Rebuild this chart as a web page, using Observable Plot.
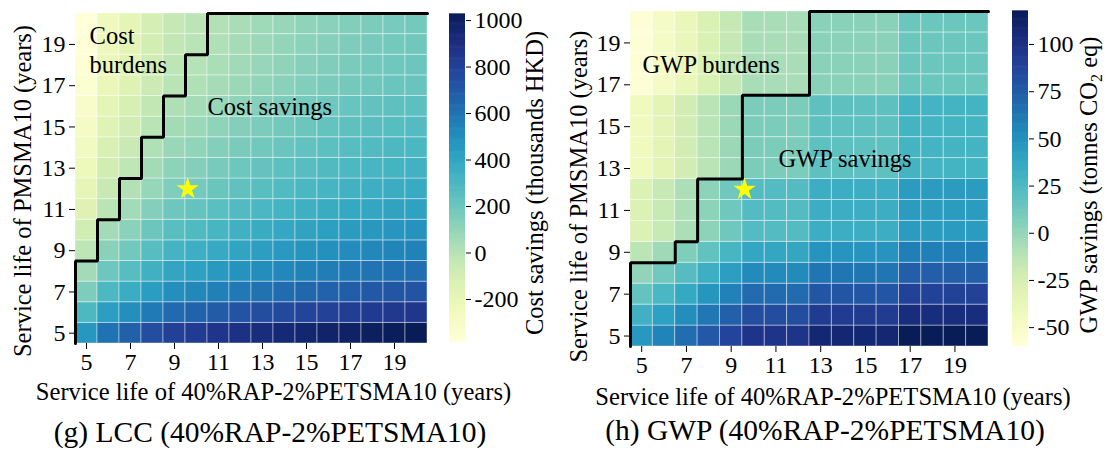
<!DOCTYPE html>
<html>
<head>
<meta charset="utf-8">
<script src="https://cdn.jsdelivr.net/npm/d3@7"></script>
<script src="https://cdn.jsdelivr.net/npm/@observablehq/plot@0.6"></script>
<style>
  html, body { margin: 0; padding: 0; background: #fff; }
  #root { position: relative; width: 1110px; height: 452px; overflow: hidden; background: #fff;
          font-family: "Liberation Serif", "Times New Roman", serif; }
  #root > svg, #root > figure { position: absolute; margin: 0; }
  #root svg text { font-family: "Liberation Serif", "Times New Roman", serif; }
  #overlay { left: 0; top: 0; pointer-events: none; }
</style>
</head>
<body>
<div id="root"></div>
<script>
// ---------------- data ----------------
const rapLife = [5, 6, 7, 8, 9, 10, 11, 12, 13, 14, 15, 16, 17, 18, 19, 20];     // x: 40%RAP-2%PETSMA10
const pmsmaLife = [5, 6, 7, 8, 9, 10, 11, 12, 13, 14, 15, 16, 17, 18, 19, 20];   // y: PMSMA10
const axisTicks = [5, 7, 9, 11, 13, 15, 17, 19];

// LCC cost savings (thousands HKD); rows = PMSMA10 life 5..20, columns = RAP life 5..20
const lccSavings = [
  [462, 602, 666, 744, 804, 830, 860, 887, 912, 934, 954, 972, 989, 1004, 1017, 1026],
  [292, 432, 496, 574, 634, 660, 690, 717, 742, 764, 784, 802, 819, 834, 847, 856],
  [155, 295, 359, 437, 497, 523, 553, 580, 605, 627, 647, 665, 682, 697, 710, 719],
  [55, 195, 259, 337, 397, 423, 453, 480, 505, 527, 547, 565, 582, 597, 610, 619],
  [-20, 120, 184, 262, 322, 348, 378, 405, 430, 452, 472, 490, 507, 522, 535, 544],
  [-85, 55, 119, 197, 257, 283, 313, 340, 365, 387, 407, 425, 442, 457, 470, 479],
  [-147, -7, 57, 135, 195, 221, 251, 278, 303, 325, 345, 363, 380, 395, 408, 417],
  [-193, -53, 11, 89, 149, 175, 205, 232, 257, 279, 299, 317, 334, 349, 362, 371],
  [-230, -90, -26, 52, 112, 138, 168, 195, 220, 242, 262, 280, 297, 312, 325, 334],
  [-263, -123, -59, 19, 79, 105, 135, 162, 187, 209, 229, 247, 264, 279, 292, 301],
  [-290, -150, -86, -8, 52, 78, 108, 135, 160, 182, 202, 220, 237, 252, 265, 274],
  [-317, -177, -113, -35, 25, 51, 81, 108, 133, 155, 175, 193, 210, 225, 238, 247],
  [-349, -209, -145, -67, -7, 19, 49, 76, 101, 123, 143, 161, 178, 193, 206, 215],
  [-363, -223, -159, -81, -21, 5, 35, 62, 87, 109, 129, 147, 164, 179, 192, 201],
  [-376, -236, -172, -94, -34, -8, 22, 49, 74, 96, 116, 134, 151, 166, 179, 188],
  [-385, -245, -181, -103, -43, -17, 13, 40, 65, 87, 107, 125, 142, 157, 170, 179]
];

// GWP savings (tonnes CO2 eq); rows = PMSMA10 life 5..20, columns = RAP life 5..20
const gwpSavings = [
  [46, 56.3, 66.6, 76.9, 87.2, 97.5, 97.5, 97.5, 107.8, 107.8, 107.8, 107.8, 118.1, 118.1, 118.1, 118.1],
  [31.1, 41.4, 51.7, 62, 72.3, 82.6, 82.6, 82.6, 92.9, 92.9, 92.9, 92.9, 103.2, 103.2, 103.2, 103.2],
  [16.2, 26.5, 36.8, 47.1, 57.4, 67.7, 67.7, 67.7, 78, 78, 78, 78, 88.3, 88.3, 88.3, 88.3],
  [1.3, 11.6, 21.9, 32.2, 42.5, 52.8, 52.8, 52.8, 63.1, 63.1, 63.1, 63.1, 73.4, 73.4, 73.4, 73.4],
  [-13.6, -3.3, 7, 17.3, 27.6, 37.9, 37.9, 37.9, 48.2, 48.2, 48.2, 48.2, 58.5, 58.5, 58.5, 58.5],
  [-28.5, -18.2, -7.9, 2.4, 12.7, 23, 23, 23, 33.3, 33.3, 33.3, 33.3, 43.6, 43.6, 43.6, 43.6],
  [-28.5, -18.2, -7.9, 2.4, 12.7, 23, 23, 23, 33.3, 33.3, 33.3, 33.3, 43.6, 43.6, 43.6, 43.6],
  [-28.5, -18.2, -7.9, 2.4, 12.7, 23, 23, 23, 33.3, 33.3, 33.3, 33.3, 43.6, 43.6, 43.6, 43.6],
  [-43.4, -33.1, -22.8, -12.5, -2.2, 8.1, 8.1, 8.1, 18.4, 18.4, 18.4, 18.4, 28.7, 28.7, 28.7, 28.7],
  [-43.4, -33.1, -22.8, -12.5, -2.2, 8.1, 8.1, 8.1, 18.4, 18.4, 18.4, 18.4, 28.7, 28.7, 28.7, 28.7],
  [-43.4, -33.1, -22.8, -12.5, -2.2, 8.1, 8.1, 8.1, 18.4, 18.4, 18.4, 18.4, 28.7, 28.7, 28.7, 28.7],
  [-43.4, -33.1, -22.8, -12.5, -2.2, 8.1, 8.1, 8.1, 18.4, 18.4, 18.4, 18.4, 28.7, 28.7, 28.7, 28.7],
  [-58.3, -48, -37.7, -27.4, -17.1, -6.8, -6.8, -6.8, 3.5, 3.5, 3.5, 3.5, 13.8, 13.8, 13.8, 13.8],
  [-58.3, -48, -37.7, -27.4, -17.1, -6.8, -6.8, -6.8, 3.5, 3.5, 3.5, 3.5, 13.8, 13.8, 13.8, 13.8],
  [-58.3, -48, -37.7, -27.4, -17.1, -6.8, -6.8, -6.8, 3.5, 3.5, 3.5, 3.5, 13.8, 13.8, 13.8, 13.8],
  [-58.3, -48, -37.7, -27.4, -17.1, -6.8, -6.8, -6.8, 3.5, 3.5, 3.5, 3.5, 13.8, 13.8, 13.8, 13.8]
];

// expected service lives (star)
const starRap = [9.6];
const starPmsma = [12];

const lccRange = [-385, 1026];
const gwpRange = [-60, 117.5];
const lccTicks = [-200, 0, 200, 400, 600, 800, 1000];
const gwpTicks = [-50, -25, 0, 25, 50, 75, 100];

// ---------------- helpers ----------------
const FONT = "'Liberation Serif', 'Times New Roman', serif";
const TICK = 24;
const root = document.getElementById("root");

function toCells(rows) {
  const out = [];
  rows.forEach((row, j) => row.forEach((v, i) => out.push({x: rapLife[i], y: pmsmaLife[j], v})));
  return out;
}

// staircase boundary between savings (>=0) and burdens (<0), derived from the data
function boundary(rows) {
  const pts = [{x: rapLife[0] - 0.5, y: pmsmaLife[0] - 0.5}];
  rapLife.forEach((x, i) => {
    let h = pmsmaLife[0] - 0.5;
    rows.forEach((row, j) => { if (row[i] >= 0) h = pmsmaLife[j] + 0.5; });
    pts.push({x: x - 0.5, y: h}, {x: x + 0.5, y: h});
  });
  return pts;
}

function heatmap({rows, range, left, top, width, height, margins, notes}) {
  const [mt, mr, mb, ml] = margins;
  const svg = Plot.plot({
    width, height, marginTop: mt, marginRight: mr, marginBottom: mb, marginLeft: ml,
    x: {domain: [4.5, 20.5], axis: null},
    y: {domain: [4.5, 20.5], axis: null},
    color: {type: "linear", scheme: "YlGnBu", domain: range},
    style: {fontFamily: FONT, fontSize: TICK + "px", color: "black", background: "transparent", overflow: "visible"},
    marks: [
      Plot.rect(toCells(rows), {
        x1: d => d.x - 0.5, x2: d => d.x + 0.5, y1: d => d.y - 0.5, y2: d => d.y + 0.5,
        fill: "v", stroke: "white", strokeOpacity: 0.4, strokeWidth: 1
      }),
      Plot.line(boundary(rows), {x: "x", y: "y", stroke: "black", strokeWidth: 3, strokeLinejoin: "miter"}),
      Plot.dot(starRap.map((x, i) => ({x, y: starPmsma[i]})), {x: "x", y: "y", symbol: "star", fill: "#ffff00", r: 7}),
      ...notes.map(n => Plot.text([n.text], {x: () => n.x, y: () => n.y, text: d => d, textAnchor: "start",
        lineAnchor: "bottom", lineHeight: 1.2, fontSize: 24.5, fontFamily: FONT, fill: "black"})),
      Plot.axisX({ticks: axisTicks, tickSize: 6, tickPadding: 3, label: null, fontSize: TICK, fontFamily: FONT}),
      Plot.axisY({ticks: axisTicks, tickSize: 6, tickPadding: 4, label: null, fontSize: TICK, fontFamily: FONT})
    ]
  });
  svg.style.left = left + "px";
  svg.style.top = top + "px";
  root.appendChild(svg);
}

function colorbar({range, ticks, left, top, width, height, margins}) {
  const [mt, mr, mb, ml] = margins;
  const n = 300, [lo, hi] = range;
  const bands = d3.range(n).map(i => ({y1: lo + (hi - lo) * i / n, y2: lo + (hi - lo) * (i + 1) / n}));
  const svg = Plot.plot({
    width, height, marginTop: mt, marginRight: mr, marginBottom: mb, marginLeft: ml,
    x: {domain: [0, 1], axis: null},
    y: {domain: range, axis: null},
    color: {type: "linear", scheme: "YlGnBu", domain: range},
    style: {fontFamily: FONT, fontSize: TICK + "px", color: "black", background: "transparent", overflow: "visible"},
    marks: [
      Plot.rect(bands, {x1: 0, x2: 1, y1: "y1", y2: d => d.y2 + (hi - lo) * 0.002, fill: d => (d.y1 + d.y2) / 2}),
      Plot.axisY({anchor: "right", ticks, tickSize: 5, tickPadding: 4, label: null, fontSize: TICK, fontFamily: FONT,
        tickFormat: d => String(d)})
    ]
  });
  svg.style.left = left + "px";
  svg.style.top = top + "px";
  root.appendChild(svg);
}

// ---------------- panels ----------------
heatmap({
  rows: lccSavings, range: lccRange, left: 0, top: 0, width: 440, height: 380,
  margins: [13, 13, 37, 75],
  notes: [
    {text: "Cost\nburdens", x: 5.14, y: 17.6},
    {text: "Cost savings", x: 10.5, y: 15.57}
  ]
});
colorbar({range: lccRange, ticks: lccTicks, left: 440, top: 0, width: 100, height: 380, margins: [14, 75, 38, 9]});

heatmap({
  rows: gwpSavings, range: gwpRange, left: 555, top: 0, width: 445, height: 383,
  margins: [11, 12, 37, 75],
  notes: [
    {text: "GWP burdens", x: 5.04, y: 17.58},
    {text: "GWP savings", x: 11.11, y: 13.05}
  ]
});
colorbar({range: gwpRange, ticks: gwpTicks, left: 1000, top: 0, width: 98, height: 383, margins: [11, 70, 37, 12]});

// ---------------- labels & captions ----------------
const NS = "http://www.w3.org/2000/svg";
const ov = document.createElementNS(NS, "svg");
ov.setAttribute("id", "overlay");
ov.setAttribute("width", 1110);
ov.setAttribute("height", 452);
ov.style.fontFamily = FONT;
root.appendChild(ov);

function label(str, x, y, size, rotate) {
  const t = document.createElementNS(NS, "text");
  t.setAttribute("transform", `translate(${x},${y})` + (rotate ? " rotate(-90)" : ""));
  t.setAttribute("text-anchor", "middle");
  t.setAttribute("font-size", size);
  t.setAttribute("fill", "black");
  t.textContent = str;
  ov.appendChild(t);
  return t;
}

label("Service life of PMSMA10 (years)", 31, 191, 24.5, true);
label("Service life of 40%RAP-2%PETSMA10 (years)", 273.5, 400, 24.6, false);
label("Cost savings (thousands HKD)", 543, 183, 24.5, true);
label("(g) LCC (40%RAP-2%PETSMA10)", 270, 442, 29.5, false);

label("Service life of PMSMA10 (years)", 587, 196.5, 24.5, true);
label("Service life of 40%RAP-2%PETSMA10 (years)", 833, 405, 24.6, false);
label("(h) GWP (40%RAP-2%PETSMA10)", 825, 440, 29.5, false);

const gl = label("GWP savings (tonnes CO", 1097, 185, 24.5, true);
const sub = document.createElementNS(NS, "tspan");
sub.setAttribute("font-size", 16);
sub.setAttribute("dy", 5);
sub.textContent = "2";
const rest = document.createElementNS(NS, "tspan");
rest.setAttribute("dy", -5);
rest.textContent = " eq)";
gl.appendChild(sub);
gl.appendChild(rest);
</script>
</body>
</html>
